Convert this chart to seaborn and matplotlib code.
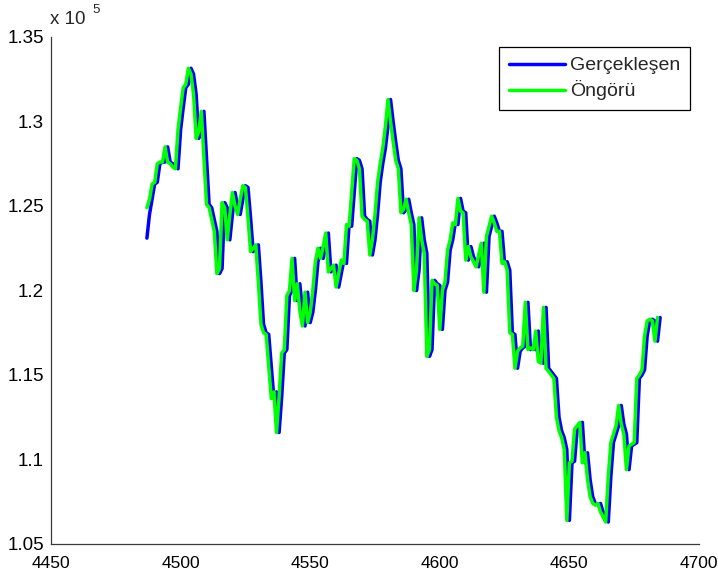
import numpy as np
import pandas as pd
import seaborn as sns
import matplotlib
matplotlib.use("Agg")
import matplotlib.pyplot as plt
from matplotlib.ticker import FuncFormatter, FixedLocator

# Observed series (Gerçekleşen), one value per time step starting at t = 4487
actual = [
    123100, 124500, 125400, 126300, 126400, 127500, 127600, 127600, 128500, 127600,
    127500, 127300, 127200, 129500, 130800, 132000, 132200, 133150, 132800, 131600,
    129000, 129400, 130600, 127800, 125100, 124900, 124200, 123500, 121000, 121300,
    125200, 124900, 123000, 124500, 125800, 125000, 124500, 125400, 126200, 126100,
    124300, 122300, 122500, 122700, 120500, 118000, 117500, 117400, 115500, 113600,
    114000, 111600, 113700, 116300, 116500, 119700, 120000, 121900, 119400, 120400,
    118800, 117900, 119900, 118100, 118700, 120000, 121700, 122500, 121900, 122600,
    123400, 121100, 121300, 121500, 120200, 121000, 121800, 121600, 123900, 123800,
    125800, 127800, 127700, 127200, 124400, 124200, 124100, 122100, 123000, 124500,
    126400, 127500, 128400, 129700, 131300, 130000, 128800, 127700, 127200, 124600,
    124800, 125400, 124600, 123900, 120000, 121200, 124300, 123000, 122200, 116100,
    116500, 120600, 120400, 120300, 117700, 120000, 120500, 122400, 123000, 124000,
    123900, 125450, 124700, 124600, 121800, 122600, 122000, 121700, 121400, 122100,
    122800, 119900, 123200, 123800, 124400, 124000, 123500, 123500, 121600, 121700,
    121200, 117500, 117400, 115400, 116400, 116600, 116700, 119300, 116500, 116600,
    116500, 117600, 115800, 115700, 119000, 115400, 115200, 115000, 114800, 112500,
    111700, 111300, 110600, 106400, 109800, 109900, 111800, 112000, 112200, 109800,
    110400, 108800, 107800, 107400, 107300, 107400, 106900, 106600, 106300, 109000,
    111000, 111500, 112000, 113200, 112100, 111500, 109400, 110800, 110900, 111000,
    114800, 115000, 115300, 117300, 118200, 118300, 118200, 117000, 118400,
]

# Forecast series (Öngörü), starting at the same time step
forecast = [
    124900, 125400, 126300, 126400, 127500, 127600, 127600, 128500, 127600, 127500,
    127300, 127200, 129500, 130800, 132000, 132200, 133150, 132800, 131600, 129000,
    129400, 130600, 127800, 125100, 124900, 124200, 123500, 121000, 121300, 125200,
    124900, 123000, 124500, 125800, 125000, 124500, 125400, 126200, 126100, 124300,
    122300, 122500, 122700, 120500, 118000, 117500, 117400, 115500, 113600, 114000,
    111600, 113700, 116300, 116500, 119700, 120000, 121900, 119400, 120400, 118800,
    117900, 119900, 118100, 118700, 120000, 121700, 122500, 121900, 122600, 123400,
    121100, 121300, 121500, 120200, 121000, 121800, 121600, 123900, 123800, 125800,
    127800, 127700, 127200, 124400, 124200, 124100, 122100, 123000, 124500, 126400,
    127500, 128400, 129700, 131300, 130000, 128800, 127700, 127200, 124600, 124800,
    125400, 124600, 123900, 120000, 121200, 124300, 123000, 122200, 116100, 116500,
    120600, 120400, 120300, 117700, 120000, 120500, 122400, 123000, 124000, 123900,
    125450, 124700, 124600, 121800, 122600, 122000, 121700, 121400, 122100, 122800,
    119900, 123200, 123800, 124400, 124000, 123500, 123500, 121600, 121700, 121200,
    117500, 117400, 115400, 116400, 116600, 116700, 119300, 116500, 116600, 116500,
    117600, 115800, 115700, 119000, 115400, 115200, 115000, 114800, 112500, 111700,
    111300, 110600, 106400, 109800, 109900, 111800, 112000, 112200, 109800, 110400,
    108800, 107800, 107400, 107300, 107400, 106900, 106600, 106300, 109000, 111000,
    111500, 112000, 113200, 112100, 111500, 109400, 110800, 110900, 111000, 114800,
    115000, 115300, 117300, 118200, 118300, 118200, 117000, 118400,
]

series_labels = ["Gerçekleşen", "Öngörü"]
first_step = 4487
x_ticks = [4450, 4500, 4550, 4600, 4650, 4700]
y_ticks = [105000, 110000, 115000, 120000, 125000, 130000, 135000]

df_actual = pd.DataFrame({"t": np.arange(first_step, first_step + len(actual)), "v": actual})
df_fore = pd.DataFrame({"t": np.arange(first_step, first_step + len(forecast)), "v": forecast})

sns.set_style("white")
plt.rcParams["font.family"] = ["Liberation Sans", "DejaVu Sans"]

W, H = 718, 581
fig = plt.figure(figsize=(W / 100, H / 100), dpi=100)
ax = fig.add_axes([51 / W, 1 - 544 / H, 648 / W, 507 / H])

sns.lineplot(data=df_actual, x="t", y="v", color="#0000ff", lw=2.5, ax=ax,
             label=series_labels[0])
sns.lineplot(data=df_fore, x="t", y="v", color="#00ff00", lw=2.5, ax=ax,
             label=series_labels[1])

ax.set_xlim(x_ticks[0], x_ticks[-1])
ax.set_ylim(y_ticks[0], y_ticks[-1])
ax.xaxis.set_major_locator(FixedLocator(x_ticks))
ax.yaxis.set_major_locator(FixedLocator(y_ticks))
ax.yaxis.set_major_formatter(FuncFormatter(lambda v, p: f"{v / 1e5:g}"))
ax.set_xlabel("")
ax.set_ylabel("")

for side in ("top", "right"):
    ax.spines[side].set_visible(False)
for side in ("left", "bottom"):
    ax.spines[side].set_color("#3a3a3a")
    ax.spines[side].set_linewidth(0.9)

ax.tick_params(axis="both", direction="in", length=4, width=0.9, color="#3a3a3a",
               labelcolor="black")
ax.tick_params(axis="y", pad=5, labelsize=13.5)
ax.tick_params(axis="x", pad=9, labelsize=12.5)

# Exponent marker above the y axis
fig.text(50 / W, 1 - 20 / H, "x 10", fontsize=13.5, ha="left", va="center")
fig.text(92 / W, 1 - 10 / H, "5", fontsize=9.5, ha="left", va="center")

leg = ax.legend(loc="upper right", bbox_to_anchor=(0.986, 0.980), borderaxespad=0,
                fontsize=14, frameon=True, fancybox=False, framealpha=1,
                edgecolor="black", handlelength=2.9, handletextpad=0.25,
                borderpad=0.5, labelspacing=0.3)
leg.get_frame().set_linewidth(0.9)
for line in leg.get_lines():
    line.set_linewidth(2.5)

fig.savefig("out.png", dpi=100, facecolor="white")
